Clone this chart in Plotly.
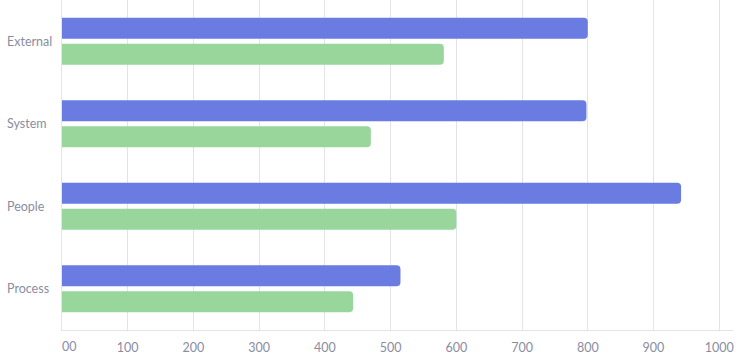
import plotly.graph_objects as go

categories = ["External", "System", "People", "Process"]
series_a = [800, 798, 942, 515]
series_b = [581, 470, 600, 443]
tick_vals = [0, 100, 200, 300, 400, 500, 600, 700, 800, 900, 1000]
tick_text = ["", "100", "200", "300", "400", "500", "600", "700", "800", "900", "1000"]

blue = "rgb(106,123,226)"
green = "rgb(152,214,156)"
grid = "#e3e3ec"
label = "#8a8d9f"
fam = "Lato, Open Sans, sans-serif"

fig = go.Figure()
fig.add_trace(go.Bar(y=categories, x=series_a, orientation="h", marker=dict(color=blue, line=dict(width=0)), name="A"))
fig.add_trace(go.Bar(y=categories, x=series_b, orientation="h", marker=dict(color=green, line=dict(width=0)), name="B"))

fig.update_layout(
    width=746, height=362,
    margin=dict(l=62, r=13, t=0, b=32),
    barmode="group", bargap=0.37, bargroupgap=0.19,
    barcornerradius=4,
    showlegend=False,
    plot_bgcolor="white", paper_bgcolor="white",
    font=dict(family=fam, size=12, color=label),
    xaxis=dict(range=[0, 1021], tickvals=tick_vals, ticktext=tick_text,
               showgrid=True, gridcolor=grid, gridwidth=1, zeroline=False,
               showline=True, linecolor=grid, linewidth=1,
               ticklabelstandoff=6,
               tickfont=dict(size=12.5, color=label)),
    yaxis=dict(autorange="reversed", showgrid=False, zeroline=False,
               showline=True, linecolor=grid, linewidth=1, ticks="",
               showticklabels=False),
)
for c in categories:
    fig.add_annotation(x=0, xref="paper", y=c, yref="y", text=c, showarrow=False,
                       xanchor="left", xshift=-57,
                       font=dict(size=12.5, color=label, family=fam))
fig.add_annotation(x=0, y=0, xref="x", yref="paper", text="00", showarrow=False,
                   xanchor="left", yanchor="top", yshift=-7, xshift=-2,
                   font=dict(size=12.5, color=label, family=fam))
fig.write_html("out.html")
